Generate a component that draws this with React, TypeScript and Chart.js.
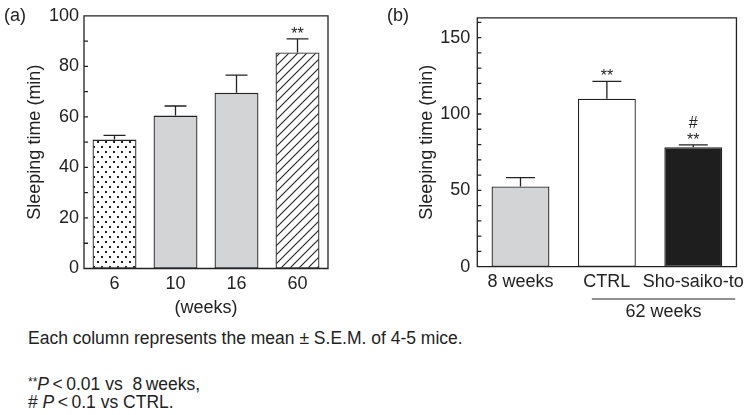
import React, { useEffect, useRef } from 'react';
import { Chart, registerables } from 'chart.js';

Chart.register(...registerables);

// ---------- data ----------
const agesA = ['6', '10', '16', '60'];
const meansA = [51, 60.5, 69.5, 85.5];
const semA = [1.7, 3.8, 7.0, 5.4];
const starsA = ['', '', '', '**'];
const hashA = ['', '', '', ''];
const yMaxA = 100;
const yLabelStepA = 20;

const groupsB = ['8 weeks', 'CTRL', 'Sho-saiko-to'];
const meansB = [52.5, 110, 78.3];
const semB = [5.8, 11.4, 1.5];
const starsB = ['', '**', '**'];
const hashB = ['', '', '#'];
const yMaxB = 163;
const yLabelStepB = 50;

const Y_TITLE = 'Sleeping time (min)';
const X_TITLE_A = '(weeks)';
const GROUP_LABEL_B = '62 weeks';

const FONT = '"Liberation Sans", Arial, Helvetica, sans-serif';
const INK = '#222';
const GRAY = '#d3d4d6';

function makeDots(): CanvasPattern {
  const c = document.createElement('canvas');
  c.width = 8; c.height = 10;
  const g = c.getContext('2d')!;
  g.fillStyle = '#fff'; g.fillRect(0, 0, 8, 10);
  g.fillStyle = INK;
  g.fillRect(1, 1, 2, 2);
  g.fillRect(5, 6, 2, 2);
  return g.createPattern(c, 'repeat')!;
}

function makeHatch(): CanvasPattern {
  const s = 9;
  const c = document.createElement('canvas');
  c.width = s; c.height = s;
  const g = c.getContext('2d')!;
  g.fillStyle = '#fff'; g.fillRect(0, 0, s, s);
  g.strokeStyle = INK; g.lineWidth = 1.1;
  g.beginPath();
  g.moveTo(-1, s + 1); g.lineTo(s + 1, -1);
  g.moveTo(-2, 2); g.lineTo(2, -2);
  g.moveTo(s - 2, s + 2); g.lineTo(s + 2, s - 2);
  g.stroke();
  return g.createPattern(c, 'repeat')!;
}

type Spec = {
  labels: string[];
  means: number[];
  sems: number[];
  colors: (string | CanvasPattern)[];
  stars: string[];
  hashes: string[];
  yMax: number;
  yLabelStep: number;
  yAxisWidth: number;
  xAxisHeight: number;
  padTop: number;
  padRight: number;
  tickPad: number;
  titlePad: number;
  barPct: number;
  xTitle?: string;
  extra?: (chart: any, ctx: CanvasRenderingContext2D) => void;
};

function decorPlugin(spec: Spec) {
  return {
    id: 'decor',
    afterDatasetsDraw(chart: any) {
      const ctx: CanvasRenderingContext2D = chart.ctx;
      const y = chart.scales.y;
      const meta = chart.getDatasetMeta(0);
      ctx.save();
      ctx.strokeStyle = INK;
      ctx.fillStyle = INK;
      ctx.lineWidth = 1.3;
      meta.data.forEach((el: any, i: number) => {
        const top = y.getPixelForValue(spec.means[i] + spec.sems[i]);
        const capW = el.width * 0.5;
        ctx.beginPath();
        ctx.moveTo(el.x, el.y);
        ctx.lineTo(el.x, top);
        ctx.moveTo(el.x - capW / 2, top);
        ctx.lineTo(el.x + capW / 2, top);
        ctx.stroke();
        ctx.textAlign = 'center';
        ctx.textBaseline = 'alphabetic';
        ctx.font = `16px ${FONT}`;
        if (spec.stars[i]) ctx.fillText(spec.stars[i], el.x, top);
        if (spec.hashes[i]) ctx.fillText(spec.hashes[i], el.x, top - 17);
      });
      const a = chart.chartArea;
      ctx.beginPath();
      ctx.rect(a.left, a.top, a.right - a.left, a.bottom - a.top);
      for (let v = 0; v <= spec.yMax; v += 10) {
        const py = y.getPixelForValue(v);
        ctx.moveTo(a.left, py);
        ctx.lineTo(a.left + 4, py);
      }
      ctx.stroke();
      if (spec.extra) spec.extra(chart, ctx);
      ctx.restore();
    },
  };
}

function buildChart(canvas: HTMLCanvasElement, spec: Spec) {
  return new Chart(canvas, {
    type: 'bar',
    data: {
      labels: spec.labels,
      datasets: [
        {
          data: spec.means,
          backgroundColor: spec.colors as any,
          borderColor: INK,
          borderWidth: 1.3,
          borderSkipped: false,
          barPercentage: spec.barPct,
          categoryPercentage: 1,
        },
      ],
    },
    options: {
      responsive: false,
      animation: false,
      events: [],
      layout: { padding: { top: spec.padTop, right: spec.padRight, left: 0, bottom: 0 } },
      plugins: { legend: { display: false }, tooltip: { enabled: false } },
      scales: {
        x: {
          grid: { display: false, drawTicks: false },
          border: { display: false },
          ticks: {
            font: { family: FONT, size: 18 },
            color: INK,
            padding: 5,
            maxRotation: 0,
            autoSkip: false,
          },
          title: spec.xTitle
            ? {
                display: true,
                text: spec.xTitle,
                font: { family: FONT, size: 18 },
                color: INK,
                padding: { top: 0, bottom: 6 },
              }
            : { display: false },
          afterFit(s: any) {
            s.height = spec.xAxisHeight;
          },
        },
        y: {
          min: 0,
          max: spec.yMax,
          grid: { display: false, drawTicks: false },
          border: { display: false },
          ticks: {
            stepSize: 10,
            autoSkip: false,
            font: { family: FONT, size: 18 },
            color: INK,
            padding: spec.tickPad,
            callback: (v: any) => (Number(v) % spec.yLabelStep === 0 ? String(v) : ''),
          },
          title: {
            display: true,
            text: Y_TITLE,
            font: { family: FONT, size: 18 },
            color: INK,
            padding: { top: spec.titlePad, bottom: 0 },
          },
          afterFit(s: any) {
            s.width = spec.yAxisWidth;
          },
        },
      },
    } as any,
    plugins: [decorPlugin(spec)],
  });
}

export default function App() {
  const refA = useRef<HTMLCanvasElement>(null);
  const refB = useRef<HTMLCanvasElement>(null);

  useEffect(() => {
    const dots = makeDots();
    const hatch = makeHatch();
    const specA: Spec = {
      labels: agesA,
      means: meansA,
      sems: semA,
      colors: [dots, GRAY, GRAY, hatch],
      stars: starsA,
      hashes: hashA,
      yMax: yMaxA,
      yLabelStep: yLabelStepA,
      yAxisWidth: 84,
      xAxisHeight: 56.5,
      padTop: 10,
      padRight: 12,
      tickPad: 5,
      titlePad: 24,
      barPct: 0.72,
      xTitle: X_TITLE_A,
    };
    const specB: Spec = {
      labels: groupsB,
      means: meansB,
      sems: semB,
      colors: [GRAY, '#ffffff', '#1e1e1e'],
      stars: starsB,
      hashes: hashB,
      yMax: yMaxB,
      yLabelStep: yLabelStepB,
      yAxisWidth: 97.3,
      xAxisHeight: 58.3,
      padTop: 6,
      padRight: 7.3,
      tickPad: 7,
      titlePad: 36,
      barPct: 0.67,
      extra: (chart, ctx) => {
        const x = chart.scales.x;
        const x1 = x.getPixelForValue(1) - 15;
        const x2 = x.getPixelForValue(2) + 42;
        const yy = chart.chartArea.bottom + 32.3;
        ctx.lineWidth = 1.2;
        ctx.beginPath();
        ctx.moveTo(x1, yy);
        ctx.lineTo(x2, yy);
        ctx.stroke();
        ctx.font = `18px ${FONT}`;
        ctx.textAlign = 'center';
        ctx.textBaseline = 'middle';
        ctx.fillText(GROUP_LABEL_B, (x1 + x2) / 2, yy + 13);
      },
    };
    const ca = buildChart(refA.current!, specA);
    const cb = buildChart(refB.current!, specB);
    return () => {
      ca.destroy();
      cb.destroy();
    };
  }, []);

  const txt: React.CSSProperties = {
    position: 'absolute',
    left: 28,
    fontFamily: FONT,
    fontSize: 17.5,
    lineHeight: '20px',
    color: INK,
    whiteSpace: 'nowrap',
    margin: 0,
  };

  return (
    <div
      style={{
        position: 'absolute',
        left: 0,
        top: 0,
        width: 750,
        height: 415,
        background: '#fff',
        overflow: 'hidden',
      }}
    >
      <canvas
        ref={refA}
        width={340}
        height={325}
        style={{ position: 'absolute', left: 0, top: 0, width: 340, height: 325 }}
      />
      <canvas
        ref={refB}
        width={370}
        height={325}
        style={{ position: 'absolute', left: 380, top: 0, width: 370, height: 325 }}
      />
      <div style={{ ...txt, left: 4, top: 5, fontSize: 18 }}>(a)</div>
      <div style={{ ...txt, left: 387, top: 5, fontSize: 18 }}>(b)</div>
      <div style={{ ...txt, top: 328 }}>Each column represents the mean ± S.E.M. of 4-5 mice.</div>
      <div style={{ ...txt, top: 372 }}>
        <span style={{ fontSize: 12, verticalAlign: '4px' }}>**</span>
        <i>P</i>{'\u2009<\u20090.01 vs\u00a0 8\u2009weeks,'}
      </div>
      <div style={{ ...txt, top: 392 }}>
        {'# '}<i>P</i>{'\u2009<\u20090.1 vs CTRL.'}
      </div>
    </div>
  );
}
